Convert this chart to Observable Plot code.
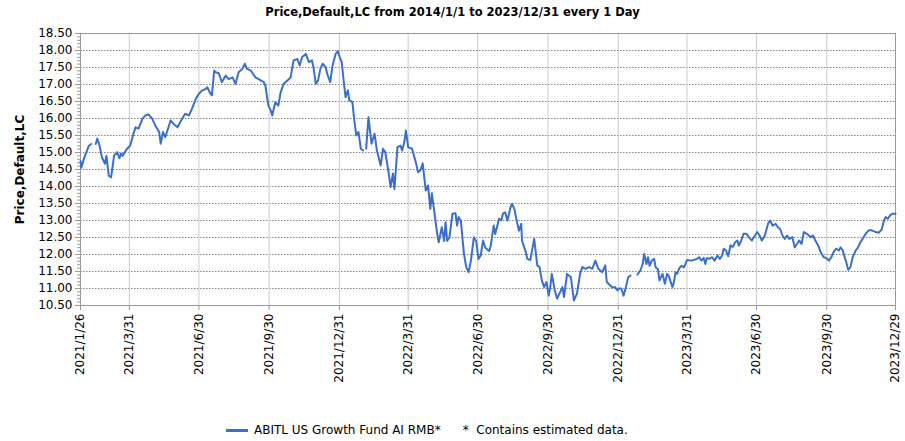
<!DOCTYPE html>
<html>
<head>
<meta charset="utf-8">
<script src="https://cdn.jsdelivr.net/npm/d3@7"></script>
<script src="https://cdn.jsdelivr.net/npm/@observablehq/plot@0.6"></script>
<style>
  html, body { margin: 0; padding: 0; background: #fff; }
  #wrap { position: relative; width: 905px; height: 441px; font-family: "DejaVu Sans", Verdana, sans-serif; }
  #title { position: absolute; left: 0; top: 5px; width: 905px; text-align: center; font-size: 11.5px; font-weight: bold; color: #000; }
  #legend { position: absolute; left: 226px; top: 423px; font-size: 12px; color: #000; white-space: nowrap; display: flex; align-items: center; }
  #legend .sw { display: inline-block; width: 22px; height: 3px; background: #3a6fcc; margin-right: 6px; }
  #legend .note { margin-left: 22px; }
  #chart { position: absolute; left: 0; top: 0; }
  #chart svg g[aria-label="y-axis label"] text { font-weight: bold; }
</style>
</head>
<body>
<div id="wrap">
  <div id="chart"></div>
  <div id="title">Price,Default,LC from 2014/1/1 to 2023/12/31 every 1 Day</div>
  <div id="legend"><span class="sw"></span><span>ABITL US Growth Fund AI RMB*</span><span class="note">*&nbsp;&nbsp;Contains estimated data.</span></div>
</div>
<script>
// Series start date; day offsets
const startDate = "2021-01-26";
const dayOffsets = [
  0,1,5,11,14,17,20,22,25,28,32,34,37,40,44,48,51,53,55,61,65,70,72,76,81,85,89,94,98,103,105,108,111,118,122,127,133,137,142,146,151,155,159,164,166,170,172,175,177,181,185,190,194,199,203,207,212,215,218,223,229,236,240,242,246,249,251,255,259,262,266,271,275,279,284,287,290,295,299,303,305,308,311,314,317,321,323,327,330,334,337,339,342,345,347,350,352,356,358,361,364,367,370,372,374,377,381,385,388,393,396,399,403,406,409,411,415,419,421,424,426,429,434,439,442,445,448,452,455,458,460,463,467,469,473,476,478,480,483,487,491,493,495,498,502,505,508,511,515,518,521,524,527,530,535,537,541,543,548,551,553,556,559,563,565,568,572,574,577,578,583,585,589,591,594,598,601,604,607,610,613,615,617,621,624,627,631,633,637,642,646,650,654,657,661,666,670,674,678,683,687,689,693,696,700,703,705,708,711,714,717,720,724,729,733,736,738,741,743,745,748,751,753,756,758,762,765,768,770,772,775,777,779,781,784,787,790,792,794,799,803,807,810,813,816,818,820,823,827,830,834,837,840,842,845,848,851,854,857,860,862,865,868,872,875,879,883,886,889,892,896,900,903,906,910,913,916,919,922,925,928,932,935,938,941,944,947,951,956,959,962,966,969,973,976,980,983,986,989,993,995,998,1001,1002,1005,1008,1011,1015,1018,1021,1024,1028,1032,1036,1041,1045,1049,1052,1054,1057,1060,1063,1067
];
const prices = [
  14.75,14.55,14.85,15.2,15.25,null,15.25,15.41,15.2,14.86,14.67,14.9,14.32,14.27,14.91,15.01,14.83,14.97,14.9,15.11,15.2,15.6,15.74,15.7,15.99,16.09,16.12,15.99,15.79,15.6,15.26,15.6,15.45,15.94,15.84,15.74,15.99,16.14,16.09,16.29,16.58,16.73,16.82,16.87,16.92,16.73,16.68,17.41,17.36,17.33,17.07,17.26,17.16,17.21,17.02,17.36,17.46,17.61,17.46,17.41,17.21,17.12,17.07,16.97,16.38,16.24,16.09,16.48,16.38,16.77,17.02,17.12,17.21,17.71,17.75,17.56,17.8,17.9,17.66,17.71,17.51,17.02,17.12,17.46,17.61,17.51,17.31,17.07,17.56,17.9,17.98,17.83,17.66,17.02,16.63,16.83,16.53,16.48,16.04,15.5,15.6,15.11,15.06,null,15.11,16.04,15.26,15.55,15.06,14.62,15.11,15.01,14.47,13.98,14.38,13.93,15.16,15.2,15.06,15.31,15.65,15.16,15.11,14.71,14.42,14.47,14.68,13.88,14.03,13.34,13.8,13.29,12.61,12.36,12.8,12.4,12.95,12.4,12.5,13.2,13.21,12.85,13.1,12.98,12.02,11.63,11.48,11.8,12.51,12.4,11.87,11.97,12.41,12.2,12.1,12.25,12.85,12.6,13.05,13.0,13.2,13.24,13.0,13.39,13.49,13.34,12.9,12.7,12.9,12.41,12.07,11.87,11.84,12.1,12.46,11.68,11.63,11.24,11.04,11.19,10.79,11.04,11.43,10.94,10.7,10.85,11.04,10.75,11.43,11.33,10.65,10.85,11.43,11.63,11.58,11.63,11.58,11.82,11.58,11.48,11.68,11.19,11.1,11.04,11.04,10.94,11.0,11.0,10.79,11.04,11.33,11.38,null,11.41,11.53,11.72,12.02,11.72,11.92,11.67,11.82,11.87,11.62,11.57,11.24,11.43,11.14,11.43,11.38,11.24,11.04,11.19,11.48,11.43,11.6,11.67,11.62,11.72,11.84,11.82,11.84,11.87,11.92,11.82,11.9,11.72,11.9,11.87,11.92,11.82,11.97,11.87,11.97,12.17,12.12,11.95,12.27,12.22,12.36,12.41,12.26,12.41,12.61,12.61,12.51,12.41,12.56,12.66,12.56,12.41,12.56,12.9,13.0,12.85,12.9,12.8,12.75,12.56,12.46,12.56,12.46,12.51,12.21,12.31,12.41,12.31,12.66,12.61,12.51,12.56,12.41,12.26,12.07,11.92,11.9,11.82,11.92,12.07,12.17,12.12,12.21,12.12,11.87,11.82,11.55,11.63,11.92,12.12,12.21,12.36,12.46,12.61,12.71,12.71,12.66,12.64,12.74,13.0,13.1,13.05,13.15,13.2,13.2
];
const xTickDates = ["2021-01-26","2021-03-31","2021-06-30","2021-09-30","2021-12-31","2022-03-31","2022-06-30","2022-09-30","2022-12-31","2023-03-31","2023-06-30","2023-09-30","2023-12-29"];
const yTickValues = [10.5,11,11.5,12,12.5,13,13.5,14,14.5,15,15.5,16,16.5,17,17.5,18,18.5];
const yLabel = "Price,Default,LC";

const t0 = new Date(startDate + "T00:00:00Z");
const dayMs = 86400000;
const data = dayOffsets.map((d, i) => ({date: new Date(t0.getTime() + d * dayMs), price: prices[i]}));
const xTicks = xTickDates.map(s => new Date(s + "T00:00:00Z"));
const yMinor = d3.range(105, 186).map(v => v / 10);
const fmtDate = d => `${d.getUTCFullYear()}/${d.getUTCMonth() + 1}/${d.getUTCDate()}`;

const chart = Plot.plot({
  width: 905,
  height: 441,
  marginLeft: 80,
  marginRight: 10,
  marginTop: 33,
  marginBottom: 136,
  style: {fontFamily: '"DejaVu Sans", Verdana, sans-serif', fontSize: "12px", color: "#000", background: "transparent"},
  x: {type: "utc", domain: [xTicks[0], xTicks[xTicks.length - 1]]},
  y: {domain: [10.5, 18.5]},
  marks: [
    Plot.gridY(yTickValues, {stroke: "#777", strokeOpacity: 0.9, strokeDasharray: "1.5,1.5"}),
    Plot.gridX(xTicks, {stroke: "#c8ccd6", strokeOpacity: 1}),
    Plot.frame({stroke: "#999"}),
    Plot.axisY(yMinor, {tickSize: 3, tickFormat: () => "", stroke: "#999", label: null}),
    Plot.axisY(yTickValues, {tickSize: 5, tickPadding: 3, stroke: "#999", tickFormat: d => d.toFixed(2), label: yLabel, labelAnchor: "center", labelOffset: 65, labelArrow: "none"}),
    Plot.axisX(xTicks, {tickSize: 5, stroke: "#999", tickRotate: -90, tickPadding: 3, tickFormat: fmtDate, label: null}),
    Plot.line(data, {x: "date", y: "price", stroke: "#3a6fcc", strokeWidth: 2})
  ]
});
document.getElementById("chart").appendChild(chart);
</script>
</body>
</html>
